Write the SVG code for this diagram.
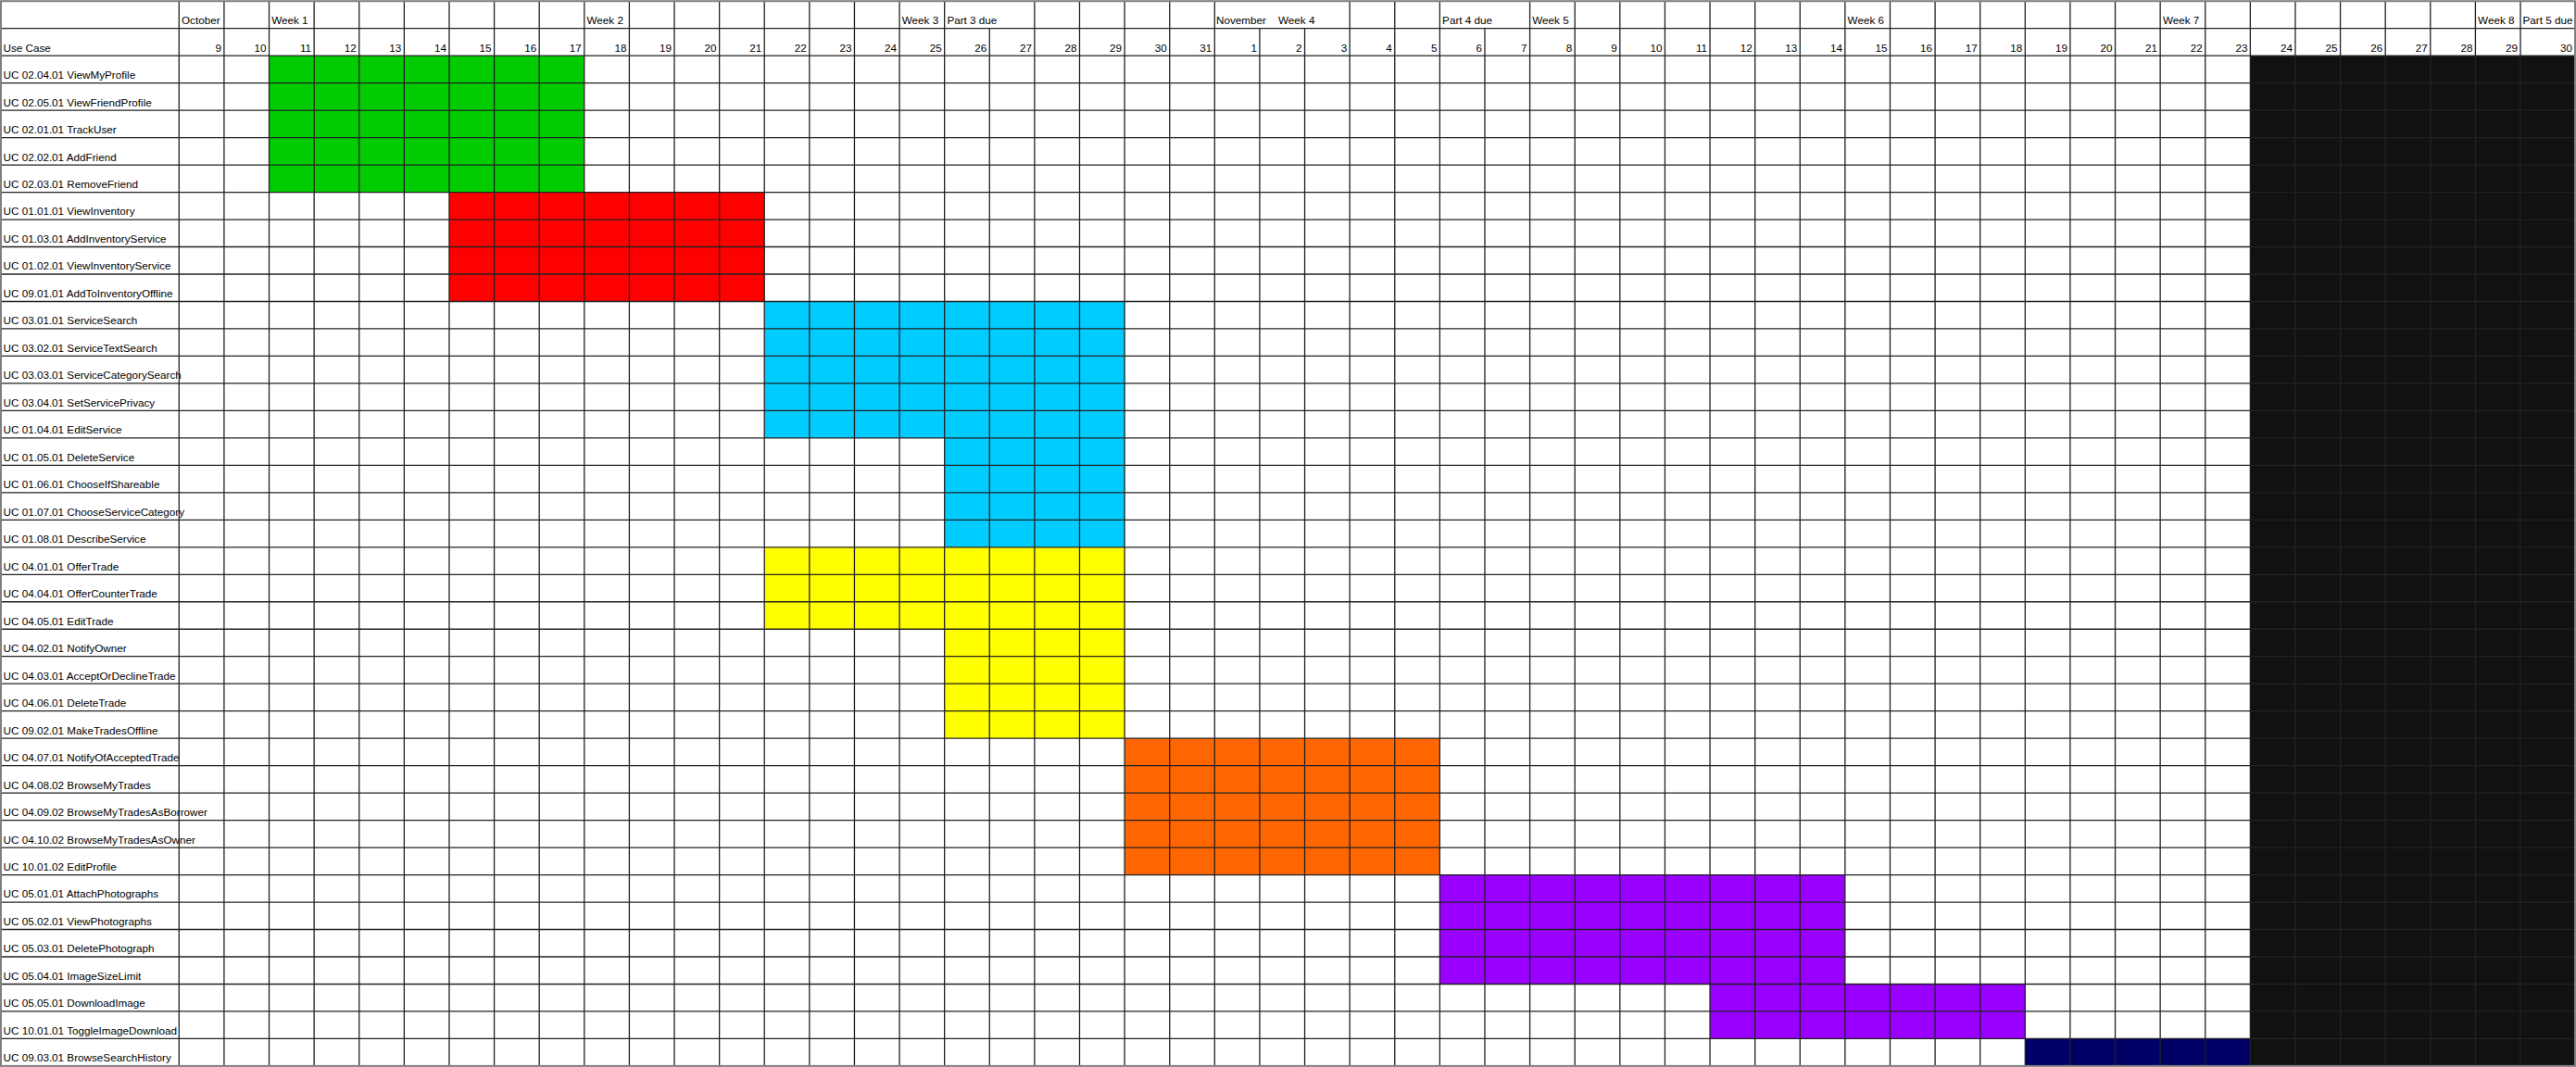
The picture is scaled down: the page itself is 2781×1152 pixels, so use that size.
<svg xmlns="http://www.w3.org/2000/svg" width="2781" height="1152" viewBox="0 0 2781 1152">
<style>
text{font-family:"Liberation Sans",Arial,sans-serif;font-size:11.7px;fill:#000}
.r{text-anchor:end}
.grid{fill:none;stroke:#222;stroke-width:1.3}
.border{fill:none;stroke:#808080;stroke-width:2}
.green{fill:#00cc00}.red{fill:#ff0000}.cyan{fill:#00ccff}.yellow{fill:#ffff00}
.orange{fill:#ff6600}.purple{fill:#9900ff}.navy{fill:#000066}.dark{fill:#111111}
</style>
<rect width="2781" height="1152" fill="#fff"/>
<g id="bars">
<rect class="green" x="290.52" y="60.16" width="340.27" height="147.4"/>
<rect class="red" x="484.96" y="207.56" width="340.27" height="117.92"/>
<rect class="cyan" x="825.23" y="325.48" width="388.88" height="147.4"/>
<rect class="cyan" x="1019.67" y="472.88" width="194.44" height="117.92"/>
<rect class="yellow" x="825.23" y="590.8" width="388.88" height="88.44"/>
<rect class="yellow" x="1019.67" y="679.24" width="194.44" height="117.92"/>
<rect class="orange" x="1214.11" y="797.16" width="340.27" height="147.4"/>
<rect class="purple" x="1554.38" y="944.56" width="437.49" height="117.92"/>
<rect class="purple" x="1846.04" y="1062.48" width="340.27" height="58.96"/>
<rect class="navy" x="2186.31" y="1121.44" width="243.05" height="29.48"/>
<rect class="dark" x="2429.36" y="60.16" width="350.64" height="1090.76"/>
</g>
<g id="grid">
<path class="grid" d="M193.3 1.2V1150.9M241.91 1.2V1150.9M290.52 1.2V1150.9M339.13 1.2V1150.9M387.74 1.2V1150.9M436.35 1.2V1150.9M484.96 1.2V1150.9M533.57 1.2V1150.9M582.18 1.2V1150.9M630.79 1.2V1150.9M679.4 1.2V1150.9M728.01 1.2V1150.9M776.62 1.2V1150.9M825.23 1.2V1150.9M873.84 1.2V1150.9M922.45 1.2V1150.9M971.06 1.2V1150.9M1019.67 1.2V1150.9M1068.28 30.68V1150.9M1116.89 1.2V1150.9M1165.5 1.2V1150.9M1214.11 1.2V1150.9M1262.72 1.2V1150.9M1311.33 1.2V1150.9M1359.94 30.68V1150.9M1408.55 30.68V1150.9M1457.16 1.2V1150.9M1505.77 1.2V1150.9M1554.38 1.2V1150.9M1602.99 30.68V1150.9M1651.6 1.2V1150.9M1700.21 1.2V1150.9M1748.82 1.2V1150.9M1797.43 1.2V1150.9M1846.04 1.2V1150.9M1894.65 1.2V1150.9M1943.26 1.2V1150.9M1991.87 1.2V1150.9M2040.48 1.2V1150.9M2089.09 1.2V1150.9M2137.7 1.2V1150.9M2186.31 1.2V1150.9M2234.92 1.2V1150.9M2283.53 1.2V1150.9M2332.14 1.2V1150.9M2380.75 1.2V1150.9M2429.36 1.2V1150.9M2477.97 1.2V1150.9M2526.58 1.2V1150.9M2575.19 1.2V1150.9M2623.8 1.2V1150.9M2672.41 1.2V1150.9M2721.02 1.2V1150.9"/>
<path class="grid" d="M1 30.68H2780M1 60.16H2780M1 89.64H2780M1 119.12H2780M1 148.6H2780M1 178.08H2780M1 207.56H2780M1 237.04H2780M1 266.52H2780M1 296H2780M1 325.48H2780M1 354.96H2780M1 384.44H2780M1 413.92H2780M1 443.4H2780M1 472.88H2780M1 502.36H2780M1 531.84H2780M1 561.32H2780M1 590.8H2780M1 620.28H2780M1 649.76H2780M1 679.24H2780M1 708.72H2780M1 738.2H2780M1 767.68H2780M1 797.16H2780M1 826.64H2780M1 856.12H2780M1 885.6H2780M1 915.08H2780M1 944.56H2780M1 974.04H2780M1 1003.52H2780M1 1033H2780M1 1062.48H2780M1 1091.96H2780M1 1121.44H2780"/>
<rect class="border" x="1" y="1.2" width="2779" height="1149.7"/>
</g>
<g id="header-weeks">
<text x="196" y="26.1">October</text>
<text x="293.2" y="26.1">Week 1</text>
<text x="633.5" y="26.1">Week 2</text>
<text x="973.8" y="26.1">Week 3</text>
<text x="1022.4" y="26.1">Part 3 due</text>
<text x="1313" y="26.1">November</text>
<text x="1380" y="26.1">Week 4</text>
<text x="1557.1" y="26.1">Part 4 due</text>
<text x="1654.3" y="26.1">Week 5</text>
<text x="1994.6" y="26.1">Week 6</text>
<text x="2334.9" y="26.1">Week 7</text>
<text x="2675.1" y="26.1">Week 8</text>
<text x="2723.5" y="26.1">Part 5 due</text>
</g>
<g id="header-dates">
<text x="3.5" y="55.5">Use Case</text>
<text class="r" x="238.9" y="55.5">9</text>
<text class="r" x="287.5" y="55.5">10</text>
<text class="r" x="336.1" y="55.5">11</text>
<text class="r" x="384.7" y="55.5">12</text>
<text class="r" x="433.3" y="55.5">13</text>
<text class="r" x="482" y="55.5">14</text>
<text class="r" x="530.6" y="55.5">15</text>
<text class="r" x="579.2" y="55.5">16</text>
<text class="r" x="627.8" y="55.5">17</text>
<text class="r" x="676.4" y="55.5">18</text>
<text class="r" x="725" y="55.5">19</text>
<text class="r" x="773.6" y="55.5">20</text>
<text class="r" x="822.2" y="55.5">21</text>
<text class="r" x="870.8" y="55.5">22</text>
<text class="r" x="919.5" y="55.5">23</text>
<text class="r" x="968.1" y="55.5">24</text>
<text class="r" x="1016.7" y="55.5">25</text>
<text class="r" x="1065.3" y="55.5">26</text>
<text class="r" x="1113.9" y="55.5">27</text>
<text class="r" x="1162.5" y="55.5">28</text>
<text class="r" x="1211.1" y="55.5">29</text>
<text class="r" x="1259.7" y="55.5">30</text>
<text class="r" x="1308.3" y="55.5">31</text>
<text class="r" x="1356.9" y="55.5">1</text>
<text class="r" x="1405.6" y="55.5">2</text>
<text class="r" x="1454.2" y="55.5">3</text>
<text class="r" x="1502.8" y="55.5">4</text>
<text class="r" x="1551.4" y="55.5">5</text>
<text class="r" x="1600" y="55.5">6</text>
<text class="r" x="1648.6" y="55.5">7</text>
<text class="r" x="1697.2" y="55.5">8</text>
<text class="r" x="1745.8" y="55.5">9</text>
<text class="r" x="1794.4" y="55.5">10</text>
<text class="r" x="1843.1" y="55.5">11</text>
<text class="r" x="1891.7" y="55.5">12</text>
<text class="r" x="1940.3" y="55.5">13</text>
<text class="r" x="1988.9" y="55.5">14</text>
<text class="r" x="2037.5" y="55.5">15</text>
<text class="r" x="2086.1" y="55.5">16</text>
<text class="r" x="2134.7" y="55.5">17</text>
<text class="r" x="2183.3" y="55.5">18</text>
<text class="r" x="2231.9" y="55.5">19</text>
<text class="r" x="2280.5" y="55.5">20</text>
<text class="r" x="2329.1" y="55.5">21</text>
<text class="r" x="2377.8" y="55.5">22</text>
<text class="r" x="2426.4" y="55.5">23</text>
<text class="r" x="2475" y="55.5">24</text>
<text class="r" x="2523.6" y="55.5">25</text>
<text class="r" x="2572.2" y="55.5">26</text>
<text class="r" x="2620.8" y="55.5">27</text>
<text class="r" x="2669.4" y="55.5">28</text>
<text class="r" x="2718" y="55.5">29</text>
<text class="r" x="2777" y="55.5">30</text>
</g>
<g id="use-cases">
<text x="3.5" y="85">UC 02.04.01 ViewMyProfile</text>
<text x="3.5" y="114.5">UC 02.05.01 ViewFriendProfile</text>
<text x="3.5" y="144">UC 02.01.01 TrackUser</text>
<text x="3.5" y="173.5">UC 02.02.01 AddFriend</text>
<text x="3.5" y="203">UC 02.03.01 RemoveFriend</text>
<text x="3.5" y="232.4">UC 01.01.01 ViewInventory</text>
<text x="3.5" y="261.9">UC 01.03.01 AddInventoryService</text>
<text x="3.5" y="291.4">UC 01.02.01 ViewInventoryService</text>
<text x="3.5" y="320.9">UC 09.01.01 AddToInventoryOffline</text>
<text x="3.5" y="350.4">UC 03.01.01 ServiceSearch</text>
<text x="3.5" y="379.8">UC 03.02.01 ServiceTextSearch</text>
<text x="3.5" y="409.3">UC 03.03.01 ServiceCategorySearch</text>
<text x="3.5" y="438.8">UC 03.04.01 SetServicePrivacy</text>
<text x="3.5" y="468.3">UC 01.04.01 EditService</text>
<text x="3.5" y="497.8">UC 01.05.01 DeleteService</text>
<text x="3.5" y="527.2">UC 01.06.01 ChooseIfShareable</text>
<text x="3.5" y="556.7">UC 01.07.01 ChooseServiceCategory</text>
<text x="3.5" y="586.2">UC 01.08.01 DescribeService</text>
<text x="3.5" y="615.7">UC 04.01.01 OfferTrade</text>
<text x="3.5" y="645.2">UC 04.04.01 OfferCounterTrade</text>
<text x="3.5" y="674.6">UC 04.05.01 EditTrade</text>
<text x="3.5" y="704.1">UC 04.02.01 NotifyOwner</text>
<text x="3.5" y="733.6">UC 04.03.01 AcceptOrDeclineTrade</text>
<text x="3.5" y="763.1">UC 04.06.01 DeleteTrade</text>
<text x="3.5" y="792.6">UC 09.02.01 MakeTradesOffline</text>
<text x="3.5" y="822">UC 04.07.01 NotifyOfAcceptedTrade</text>
<text x="3.5" y="851.5">UC 04.08.02 BrowseMyTrades</text>
<text x="3.5" y="881">UC 04.09.02 BrowseMyTradesAsBorrower</text>
<text x="3.5" y="910.5">UC 04.10.02 BrowseMyTradesAsOwner</text>
<text x="3.5" y="940">UC 10.01.02 EditProfile</text>
<text x="3.5" y="969.4">UC 05.01.01 AttachPhotographs</text>
<text x="3.5" y="998.9">UC 05.02.01 ViewPhotographs</text>
<text x="3.5" y="1028.4">UC 05.03.01 DeletePhotograph</text>
<text x="3.5" y="1057.9">UC 05.04.01 ImageSizeLimit</text>
<text x="3.5" y="1087.4">UC 05.05.01 DownloadImage</text>
<text x="3.5" y="1116.8">UC 10.01.01 ToggleImageDownload</text>
<text x="3.5" y="1146.3">UC 09.03.01 BrowseSearchHistory</text>
</g>
</svg>
